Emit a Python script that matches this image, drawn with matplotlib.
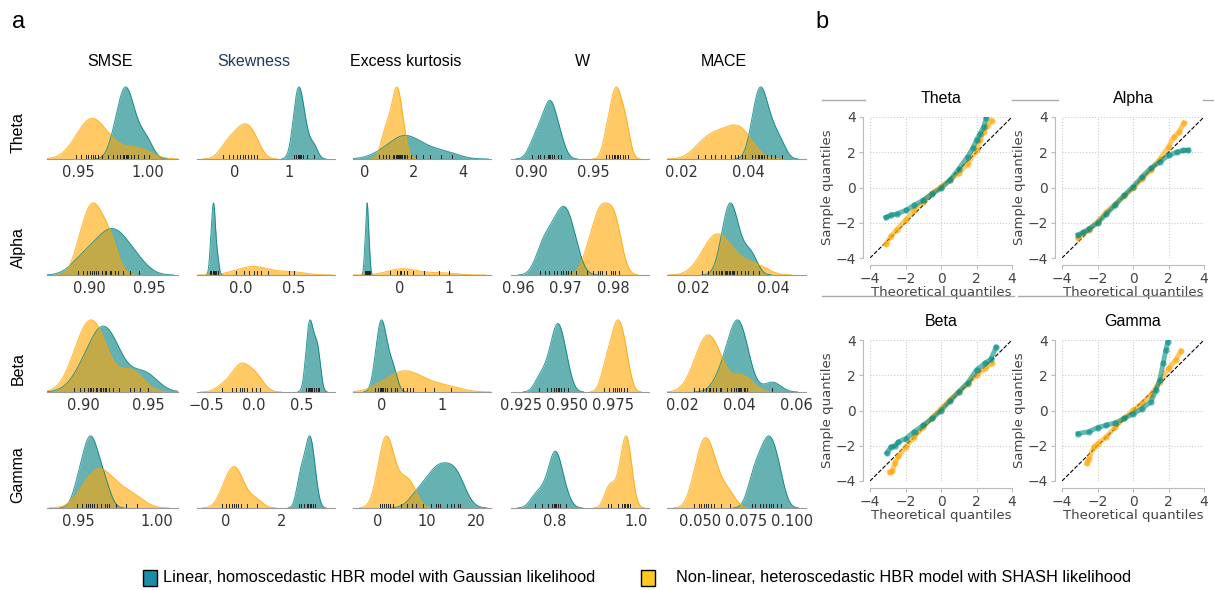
import numpy as np
import matplotlib
matplotlib.use('Agg')
import matplotlib.pyplot as plt
from matplotlib.lines import Line2D
from matplotlib.patches import Rectangle
from matplotlib import font_manager

W, H = 1214, 590

# ---------------- data: panel a (samples per metric, per parameter) ----------------
metrics = ['SMSE', 'Skewness', 'Excess kurtosis', 'W', 'MACE']
params = ['Theta', 'Alpha', 'Beta', 'Gamma']

# linear / Gaussian model (teal)
theta_lin = [
    [0.975, 0.978, 0.980, 0.982, 0.983, 0.984, 0.985, 0.986, 0.988, 0.990, 0.993, 0.997, 1.001],
    [1.08, 1.12, 1.15, 1.17, 1.19, 1.22, 1.26, 1.32, 1.45],
    [0.6, 1.0, 1.3, 1.45, 1.55, 1.65, 1.75, 1.9, 2.1, 2.4, 2.65, 3.1, 3.55],
    [0.900, 0.905, 0.907, 0.910, 0.913, 0.914, 0.915, 0.916, 0.918, 0.921, 0.924],
    [0.0410, 0.0420, 0.0428, 0.0433, 0.0437, 0.0442, 0.0448, 0.0456, 0.0468, 0.0480, 0.0500],
]
alpha_lin = [
    [0.890, 0.898, 0.905, 0.910, 0.914, 0.918, 0.921, 0.924, 0.928, 0.934, 0.942],
    [-0.29, -0.28, -0.27, -0.265, -0.26, -0.255, -0.25, -0.24, -0.22],
    [-0.70, -0.68, -0.665, -0.655, -0.65, -0.645, -0.635, -0.62, -0.60],
    [0.9645, 0.9655, 0.9665, 0.9675, 0.9682, 0.9690, 0.9695, 0.9700, 0.9705, 0.9712, 0.9722],
    [0.0270, 0.0280, 0.0286, 0.0290, 0.0293, 0.0297, 0.0302, 0.0310, 0.0320, 0.0338, 0.0350],
]
beta_lin = [
    [0.898, 0.905, 0.910, 0.913, 0.915, 0.917, 0.920, 0.923, 0.928, 0.944, 0.950],
    [0.545, 0.565, 0.575, 0.585, 0.595, 0.61, 0.63, 0.65, 0.67, 0.68],
    [-0.10, -0.06, -0.03, -0.01, 0.01, 0.03, 0.06, 0.10, 0.16, 0.22],
    [0.9350, 0.9390, 0.9415, 0.9432, 0.9443, 0.9450, 0.9458, 0.9470, 0.9485, 0.9505],
    [0.0330, 0.0355, 0.0370, 0.0380, 0.0388, 0.0393, 0.0398, 0.0405, 0.0415, 0.0425, 0.0515],
]
gamma_lin = [
    [0.9490, 0.9520, 0.9545, 0.9560, 0.9572, 0.9585, 0.9600, 0.9620, 0.9645, 0.9680],
    [2.6, 2.7, 2.8, 2.9, 2.95, 3.0, 3.05, 3.1, 3.2],
    [7.8, 9.2, 10.8, 11.8, 12.3, 12.7, 14.0, 14.9, 15.6, 16.3, 16.8],
    [0.750, 0.768, 0.783, 0.792, 0.797, 0.800, 0.803, 0.807, 0.813, 0.826],
    [0.0780, 0.0800, 0.0825, 0.0845, 0.0860, 0.0875, 0.0885, 0.0900, 0.0920, 0.0940],
]

# non-linear / SHASH model (orange)
theta_shash = [
    [0.948, 0.952, 0.955, 0.957, 0.959, 0.960, 0.962, 0.964, 0.967, 0.971, 0.980, 0.990, 0.997],
    [-0.22, -0.12, -0.04, 0.03, 0.09, 0.15, 0.19, 0.23, 0.29, 0.35, 0.41],
    [0.75, 0.9, 1.0, 1.15, 1.22, 1.28, 1.32, 1.36, 1.42, 1.5, 1.62],
    [0.960, 0.963, 0.965, 0.967, 0.968, 0.969, 0.970, 0.972, 0.974, 0.976, 0.978],
    [0.025, 0.027, 0.029, 0.030, 0.032, 0.033, 0.035, 0.036, 0.037, 0.038, 0.039, 0.041],
]
alpha_shash = [
    [0.890, 0.894, 0.898, 0.900, 0.902, 0.904, 0.907, 0.910, 0.913, 0.917, 0.921],
    [-0.05, 0.03, 0.08, 0.12, 0.15, 0.19, 0.26, 0.46, 0.51],
    [-0.2, -0.05, 0.0, 0.03, 0.08, 0.15, 0.27, 0.5, 0.8, 1.0],
    [0.9745, 0.9758, 0.9768, 0.9773, 0.9777, 0.9785, 0.9795, 0.9800, 0.9805, 0.9812],
    [0.0222, 0.0238, 0.0250, 0.0258, 0.0264, 0.0272, 0.0282, 0.0300, 0.0330, 0.0365],
]
beta_shash = [
    [0.893, 0.898, 0.901, 0.904, 0.906, 0.908, 0.911, 0.914, 0.918, 0.936, 0.939],
    [-0.33, -0.23, -0.19, -0.15, -0.13, -0.11, -0.07, -0.02, 0.02, 0.06],
    [0.0, 0.15, 0.25, 0.35, 0.42, 0.47, 0.52, 0.71, 0.87, 1.15],
    [0.9705, 0.9730, 0.9750, 0.9765, 0.9775, 0.9785, 0.9798, 0.9812, 0.9830],
    [0.0240, 0.0258, 0.0272, 0.0282, 0.0290, 0.0296, 0.0305, 0.0318, 0.0335, 0.0400, 0.0420],
]
gamma_shash = [
    [0.9520, 0.9560, 0.9595, 0.9620, 0.9640, 0.9665, 0.9695, 0.9740, 0.9800, 0.9870],
    [-0.15, 0.0, 0.12, 0.22, 0.3, 0.36, 0.42, 0.55, 0.75, 1.1],
    [0.5, 0.9, 1.3, 1.7, 2.0, 2.4, 3.0, 4.7, 6.0, 7.0],
    [0.930, 0.938, 0.955, 0.965, 0.970, 0.973, 0.976, 0.978, 0.980, 0.985],
    [0.0463, 0.0490, 0.0505, 0.0518, 0.0530, 0.0543, 0.0560, 0.0575, 0.0610, 0.0660],
]

lin_rows = [theta_lin, alpha_lin, beta_lin, gamma_lin]
shash_rows = [theta_shash, alpha_shash, beta_shash, gamma_shash]

xticks_rows = [
    [[0.95, 1.00], [0, 1], [0, 2, 4], [0.90, 0.95], [0.02, 0.04]],
    [[0.90, 0.95], [0.0, 0.5], [0, 1], [0.96, 0.97, 0.98], [0.02, 0.04]],
    [[0.90, 0.95], [-0.5, 0.0, 0.5], [0, 1], [0.925, 0.950, 0.975], [0.02, 0.04, 0.06]],
    [[0.95, 1.00], [0, 2], [0, 10, 20], [0.8, 1.0], [0.050, 0.075, 0.100]],
]
xlim_rows = [
    [(0.927, 1.022), (-0.70, 1.84), (-0.46, 5.15), (0.883, 0.9954), (0.0157, 0.0573)],
    [(0.864, 0.9745), (-0.418, 0.896), (-0.933, 1.833), (0.9584, 0.9876), (0.0135, 0.0482)],
    [(0.8723, 0.973), (-0.597, 0.848), (-0.466, 1.80), (0.9196, 0.9949), (0.0144, 0.0633)],
    [(0.9298, 1.0134), (-1.036, 3.90), (-5.08, 23.05), (0.6916, 1.031), (0.0316, 0.1079)],
]

# ---------------- data: panel b (QQ points) ----------------
qq_theta_lin_x = [-3.1, -2.8, -2.5, -2.0, -1.5, -1.0, -0.5, 0.0, 0.5, 1.0, 1.5, 1.8, 2.0, 2.2, 2.4, 2.55]
qq_theta_lin_y = [-1.70, -1.55, -1.50, -1.30, -1.00, -0.72, -0.35, -0.05, 0.42, 1.05, 1.75, 2.25, 2.70, 3.05, 3.45, 3.95]
qq_theta_sh_x = [-3.1, -2.8, -2.5, -2.0, -1.5, -1.0, -0.5, 0.0, 0.5, 1.0, 1.5, 2.0, 2.2, 2.4, 2.6, 2.85]
qq_theta_sh_y = [-3.2, -2.75, -2.4, -1.85, -1.27, -0.8, -0.33, 0.05, 0.42, 0.8, 1.36, 2.1, 2.7, 3.15, 3.5, 3.8]

qq_alpha_lin_x = [-3.1, -2.8, -2.5, -2.0, -1.5, -1.0, -0.5, 0.0, 0.5, 1.0, 1.5, 2.0, 2.5, 2.8, 3.1]
qq_alpha_lin_y = [-2.68, -2.55, -2.35, -2.02, -1.5, -0.99, -0.45, 0.05, 0.6, 1.1, 1.45, 1.82, 2.02, 2.1, 2.12]
qq_alpha_sh_x = [-3.1, -2.8, -2.5, -2.0, -1.5, -1.0, -0.5, 0.0, 0.5, 1.0, 1.5, 2.0, 2.3, 2.6, 2.85]
qq_alpha_sh_y = [-2.87, -2.6, -2.4, -1.93, -1.4, -0.93, -0.48, -0.05, 0.48, 0.99, 1.6, 2.3, 2.87, 3.15, 3.66]

qq_beta_lin_x = [-3.05, -2.8, -2.6, -2.4, -2.0, -1.5, -1.0, -0.5, 0.0, 0.5, 1.0, 1.5, 2.0, 2.5, 2.8, 3.1]
qq_beta_lin_y = [-2.4, -2.05, -2.0, -1.78, -1.6, -1.2, -0.83, -0.45, 0.0, 0.53, 1.06, 1.57, 2.3, 2.7, 2.9, 3.58]
qq_beta_sh_x = [-2.9, -2.75, -2.6, -2.4, -2.0, -1.5, -1.0, -0.5, 0.0, 0.5, 1.0, 1.5, 2.0, 2.5, 2.85]
qq_beta_sh_y = [-3.5, -3.45, -2.96, -2.6, -2.07, -1.5, -0.93, -0.4, 0.11, 0.59, 1.06, 1.5, 2.0, 2.39, 2.67]

qq_gamma_lin_x = [-3.1, -2.5, -2.0, -1.5, -1.0, -0.5, 0.0, 0.5, 1.0, 1.3, 1.5, 1.7, 1.85, 1.95]
qq_gamma_lin_y = [-1.31, -1.2, -0.97, -0.83, -0.7, -0.45, -0.2, 0.11, 0.49, 1.16, 1.73, 2.67, 3.43, 3.9]
qq_gamma_sh_x = [-2.6, -2.5, -2.2, -2.0, -1.5, -1.0, -0.5, 0.0, 0.5, 1.0, 1.5, 2.0, 2.4, 2.7]
qq_gamma_sh_y = [-3.0, -2.73, -2.07, -1.88, -1.5, -0.93, -0.45, 0.02, 0.4, 0.87, 1.63, 2.39, 2.86, 3.37]

qq_lin = [(qq_theta_lin_x, qq_theta_lin_y), (qq_alpha_lin_x, qq_alpha_lin_y),
          (qq_beta_lin_x, qq_beta_lin_y), (qq_gamma_lin_x, qq_gamma_lin_y)]
qq_sh = [(qq_theta_sh_x, qq_theta_sh_y), (qq_alpha_sh_x, qq_alpha_sh_y),
         (qq_beta_sh_x, qq_beta_sh_y), (qq_gamma_sh_x, qq_gamma_sh_y)]

legend_labels = ['Linear, homoscedastic HBR model with Gaussian likelihood',
                 'Non-linear, heteroscedastic HBR model with SHASH likelihood']

# ---------------- style ----------------
TEAL = '#008080'
ORANGE = '#ffa500'
QQ_TEAL = '#008c84'
avail = {f.name for f in font_manager.fontManager.ttflist}
ARIAL = 'Liberation Sans' if 'Liberation Sans' in avail else 'DejaVu Sans'
NARROW = 'Liberation Sans Narrow' if 'Liberation Sans Narrow' in avail else None

plt.rcParams['font.family'] = ['DejaVu Sans']


def kde(vals):
    # gaussian kde, scott bandwidth (like seaborn default)
    v = np.asarray(vals, float)
    n = len(v)
    bw = v.std(ddof=1) * n ** (-1 / 5.)
    xs = np.linspace(v.min() - 3 * bw, v.max() + 3 * bw, 300)
    d = np.exp(-0.5 * ((xs[:, None] - v[None, :]) / bw) ** 2).sum(1) / (n * bw * np.sqrt(2 * np.pi))
    return xs, d


fig = plt.figure(figsize=(W / 100, H / 100), dpi=100)

col_x = [47, 197, 353, 511, 667]
col_w = [131, 138, 138, 138, 139]
row_base = [159, 275, 392, 508]
row_h = 75

for i in range(4):
    for j in range(5):
        ax = fig.add_axes([col_x[j] / W, 1 - row_base[i] / H, col_w[j] / W, row_h / H])
        x1, d1 = kde(lin_rows[i][j])
        x2, d2 = kde(shash_rows[i][j])
        ax.fill_between(x1, d1, color=TEAL, alpha=0.6, lw=0)
        ax.plot(x1, d1, color=TEAL, lw=0.7, alpha=0.8)
        ax.fill_between(x2, d2, color=ORANGE, alpha=0.6, lw=0)
        ax.plot(x2, d2, color=ORANGE, lw=0.7, alpha=0.8)
        tr = ax.get_xaxis_transform()
        for v in list(lin_rows[i][j]) + list(shash_rows[i][j]):
            ax.plot([v, v], [0, 0.055], transform=tr, color='#222222', lw=0.7)
        ax.set_xlim(*xlim_rows[i][j])
        ax.set_ylim(0, max(d1.max(), d2.max()) * 1.04)
        ax.set_xticks(xticks_rows[i][j])
        ax.set_yticks([])
        for s in ['top', 'right', 'left']:
            ax.spines[s].set_visible(False)
        ax.spines['bottom'].set_color('#999999')
        ax.tick_params(axis='x', length=0, pad=4, labelsize=10.5, labelcolor='#333333')
        ax.patch.set_visible(False)

title_x = [110, 254, 406, 582, 724]
for j, m in enumerate(metrics):
    fig.text(title_x[j] / W, 1 - 62 / H, m, ha='center', va='center', fontsize=11.5,
             family=ARIAL, color='#1f3a5a' if m == 'Skewness' else 'black')
row_label_y = [133, 248, 369, 475]
for i, p in enumerate(params):
    fig.text(18 / W, 1 - row_label_y[i] / H, p, rotation=90, ha='center', va='center',
             fontsize=11.5, family=ARIAL)

fig.text(12 / W, 1 - 22 / H, 'a', fontsize=17, family=ARIAL, va='center', ha='left')
fig.text(815 / W, 1 - 22 / H, 'b', fontsize=17, family=ARIAL, va='center', ha='left')

# ---------------- panel b ----------------
# decorative grey rules between the qq plots
for (xa, xb, yy) in [(822, 865, 100), (1012, 1058, 100), (1203, 1214, 100),
                     (822, 1014, 296), (1018, 1202, 296)]:
    fig.add_artist(Line2D([xa / W, xb / W], [1 - yy / H, 1 - yy / H], color='#aaaaaa', lw=1))

qq_left = [870, 1062, 870, 1062]
qq_bottom = [258, 258, 481, 481]
for k, p in enumerate(params):
    ax = fig.add_axes([qq_left[k] / W, 1 - qq_bottom[k] / H, 142 / W, 141 / H])
    ax.plot([-4, 4], [-4, 4], ls='--', color='black', lw=0.8, zorder=1)
    ax.plot(qq_sh[k][0], qq_sh[k][1], '-o', color=ORANGE, alpha=0.6, lw=3.5, ms=4.5,
            mec='none', zorder=2)
    ax.plot(qq_lin[k][0], qq_lin[k][1], '-o', color=QQ_TEAL, alpha=0.6, lw=3.5, ms=4.5,
            mec='none', zorder=3)
    ax.set_xlim(-4, 4)
    ax.set_ylim(-4, 4)
    ax.set_xticks([-4, -2, 0, 2, 4])
    ax.set_yticks([-4, -2, 0, 2, 4])
    ax.grid(True, ls=':', color='#cccccc', lw=0.8)
    ax.set_axisbelow(True)
    for s in ['top', 'right']:
        ax.spines[s].set_visible(False)
    for s in ['left', 'bottom']:
        ax.spines[s].set_position(('outward', 5))
        ax.spines[s].set_color('#bbbbbb')
    ax.tick_params(length=3, color='#bbbbbb', labelsize=10, labelcolor='#444444', pad=2)
    ax.set_xlabel('Theoretical quantiles', fontsize=9.5, color='#444444', labelpad=0)
    ax.set_ylabel('Sample quantiles', fontsize=9.5, color='#444444', labelpad=1)
    ax.set_title(p, fontsize=11.5, family=ARIAL, pad=10)

# ---------------- legend ----------------
fig.add_artist(Rectangle((143 / W, 1 - 586 / H), 14 / W, 16 / H, facecolor='#1a8ca8',
                         edgecolor='black', lw=1, transform=fig.transFigure))
fig.add_artist(Rectangle((641 / W, 1 - 586 / H), 14 / W, 16 / H, facecolor='#ffc91e',
                         edgecolor='black', lw=1, transform=fig.transFigure))
if NARROW:
    lfam, lsize = NARROW, 13.5
else:
    lfam, lsize = ARIAL, 11.75
fig.text(163 / W, 1 - 578 / H, legend_labels[0], fontsize=lsize, family=lfam, va='center')
fig.text(676 / W, 1 - 578 / H, legend_labels[1], fontsize=lsize, family=lfam, va='center')

fig.savefig('out.png', dpi=100)
